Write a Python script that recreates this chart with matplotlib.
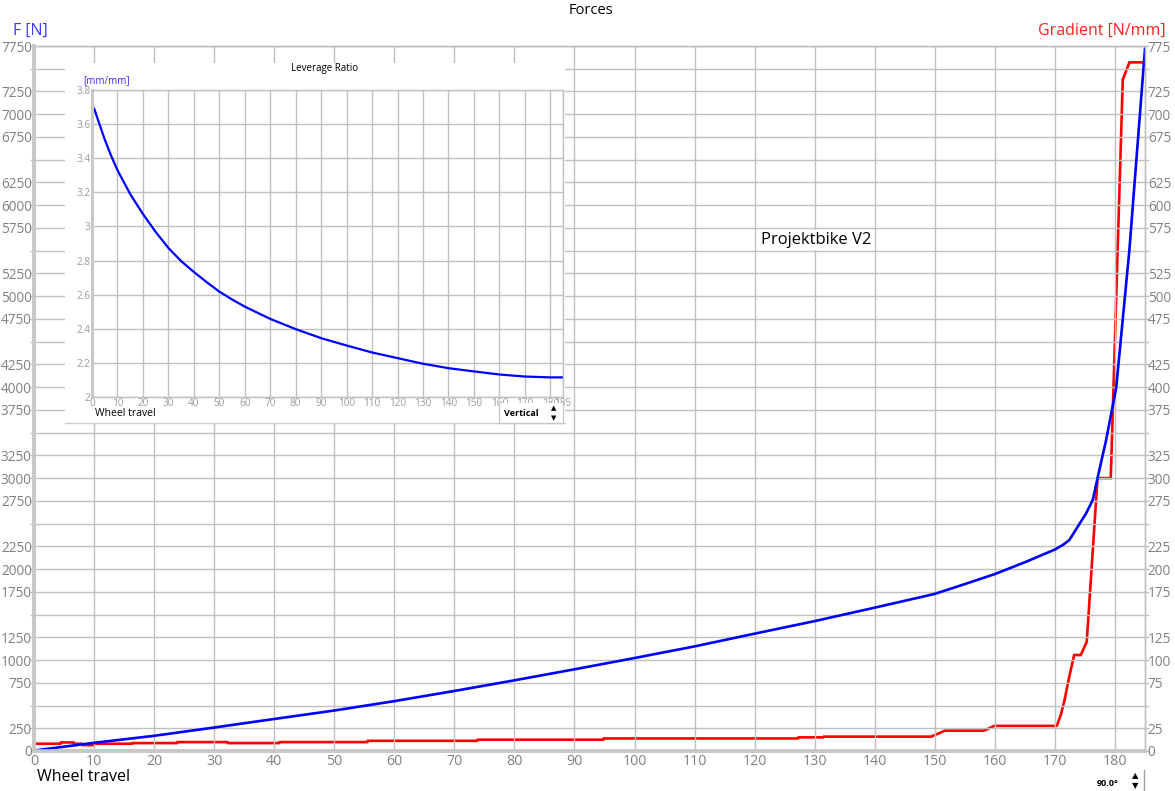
import matplotlib
matplotlib.use("Agg")
import matplotlib.pyplot as plt
from matplotlib.lines import Line2D

plt.rcParams['font.family'] = ['Open Sans', 'DejaVu Sans']

# ---------------- data ----------------
# Force curve (N) vs wheel travel (mm)
force_x = [0, 10, 20, 30, 40, 50, 60, 70, 80, 90, 100, 110, 120, 130, 140, 150,
           155, 160, 165, 170, 171.3, 172.4, 175.2, 176.3, 177.4, 178.5, 180.2, 182.4, 185]
force_y = [5, 90, 167, 258, 352, 445, 548, 660, 777, 898, 1022, 1150, 1290, 1428, 1576, 1727,
           1835, 1945, 2075, 2215, 2264, 2319, 2613, 2759, 3089, 3410, 3990, 5507, 7720]

# Gradient curve (N/mm) vs wheel travel (mm)
grad_x = [0, 4.4, 4.5, 6.6, 6.7, 8.0, 8.1, 9.9, 10.0, 16.3, 16.4, 23.8, 23.9, 32.2, 32.3,
          40.8, 40.9, 55.5, 55.6, 73.8, 73.9, 94.8, 94.9, 127.2, 127.3, 131.4, 131.5,
          149.4, 151.7, 158.2, 159.9, 170.3, 171.0, 171.6, 172.4, 173.2, 174.3, 175.3,
          177.1, 179.3, 181.3, 182.4, 185]
grad_y = [8.0, 8.0, 9.4, 9.4, 8.0, 8.0, 6.5, 6.5, 8.0, 8.0, 8.7, 8.7, 9.8, 9.8, 8.7,
          8.7, 9.8, 9.8, 11.2, 11.2, 12.4, 12.4, 13.8, 13.8, 15.0, 15.0, 15.8,
          15.8, 22.4, 22.4, 27.6, 27.6, 40, 56, 82, 105.5, 105.5, 120,
          300, 300, 738, 757, 757]

# Leverage ratio (mm/mm) vs wheel travel (mm)
lev_x = [0, 1, 2.5, 5, 7.5, 10, 15, 20, 25, 30, 35, 40, 45, 50, 55, 60, 70, 80, 90, 100,
         110, 120, 130, 140, 150, 160, 170, 180, 185]
lev_y = [3.708, 3.685, 3.618, 3.51, 3.415, 3.33, 3.19, 3.073, 2.968, 2.874, 2.797, 2.733,
         2.674, 2.618, 2.572, 2.53, 2.458, 2.398, 2.345, 2.302, 2.261, 2.228, 2.195, 2.169,
         2.15, 2.132, 2.12, 2.115, 2.115]

# tick labels
x_ticks = list(range(0, 181, 10))
x_tick_labels = [str(v) for v in x_ticks]
f_ticks = list(range(0, 7751, 250))
f_tick_labels = ['' if v % 1000 == 500 else str(v) for v in f_ticks]
g_ticks = list(range(0, 776, 25))
g_tick_labels = ['' if v % 100 == 50 else str(v) for v in g_ticks]
lev_yticks = [2.0, 2.2, 2.4, 2.6, 2.8, 3.0, 3.2, 3.4, 3.6, 3.8]
lev_ytick_labels = ['2', '2.2', '2.4', '2.6', '2.8', '3', '3.2', '3.4', '3.6', '3.8']
lev_xticks = list(range(0, 181, 10)) + [185]
lev_xtick_labels = [str(v) for v in lev_xticks]

# ---------------- layout helpers ----------------
W, H = 1175, 791
def rect(x0, y0, x1, y1):
    return [x0 / W, 1 - y1 / H, (x1 - x0) / W, (y1 - y0) / H]
def fx(px):
    return px / W
def fy(py):
    return 1 - py / H

GRID = '#c0c0c0'
TICKC = '#808080'
SPINE = '#c8c8c8'

fig = plt.figure(figsize=(W / 100, H / 100), dpi=100)
fig.patch.set_facecolor('white')

# ---------------- main axes ----------------
ax = fig.add_axes(rect(34, 46, 1145, 751))
ax2 = ax.twinx()
ax.set_zorder(ax2.get_zorder() + 1)
ax.patch.set_visible(False)

ax.set_xlim(0, 185)
ax.set_ylim(0, 7750)
ax2.set_ylim(0, 775)

ax.set_xticks(x_ticks)
ax.set_xticklabels(x_tick_labels)
ax.set_yticks(f_ticks)
ax.set_yticklabels(f_tick_labels)
ax2.set_yticks(g_ticks)
ax2.set_yticklabels(g_tick_labels)

ax.grid(True, color=GRID, lw=1.0)
ax.set_axisbelow(True)
ax.tick_params(axis='x', length=0, pad=2, labelsize=10.3, labelcolor=TICKC)
ax.tick_params(axis='y', length=3, width=1, color=GRID, pad=-1.5, labelsize=9.8, labelcolor=TICKC)
ax2.tick_params(axis='y', length=3, width=1, color=GRID, pad=-1.0, labelsize=9.8, labelcolor=TICKC)

for a in (ax, ax2):
    a.spines['left'].set_color(SPINE)
    a.spines['left'].set_linewidth(2.6)
    a.spines['bottom'].set_color(SPINE)
    a.spines['bottom'].set_linewidth(2.6)
    a.spines['right'].set_color(GRID)
    a.spines['right'].set_linewidth(1.0)
    a.spines['top'].set_color(GRID)
    a.spines['top'].set_linewidth(1.0)

ax2.plot(grad_x, grad_y, color='#ff0000', lw=1.9, solid_joinstyle='miter')
ax.plot(force_x, force_y, color='#0000ff', lw=1.9)

# ---------------- texts of main chart ----------------
fig.text(fx(591), fy(10), 'Forces', ha='center', va='center', fontsize=10.5, color='black')
fig.text(fx(13), fy(31), 'F [N]', ha='left', va='center', fontsize=11.5, color='#3a3aff')
fig.text(fx(1166), fy(31), 'Gradient [N/mm]', ha='right', va='center', fontsize=11.5, color='#ff2020')
fig.text(fx(37), fy(777), 'Wheel travel', ha='left', va='center', fontsize=11.5, color='black')
fig.text(fx(816), fy(240), 'Projektbike V2', ha='center', va='center', fontsize=12, color='black',
         bbox=dict(facecolor='white', edgecolor='none', pad=1.5), zorder=5)
fig.text(fx(1108), fy(783), '90.0°', ha='center', va='center', fontsize=6.5, color='black',
         fontweight='bold')
fig.text(fx(1135), fy(776), '▲', ha='center', va='center', fontsize=6, color='black',
         family='DejaVu Sans')
fig.text(fx(1135), fy(786), '▼', ha='center', va='center', fontsize=6, color='black',
         family='DejaVu Sans')
fig.add_artist(Line2D([fx(1144), fx(1144)], [fy(770), fy(791)], color='#a0a0a0', lw=1))

# ---------------- inset (leverage ratio) ----------------
box = fig.add_axes(rect(65, 63, 565, 423))
box.set_facecolor('white')
box.set_xticks([])
box.set_yticks([])
for s in ('left', 'right', 'top'):
    box.spines[s].set_visible(False)
box.spines['bottom'].set_color('#d0d0d0')
box.spines['bottom'].set_linewidth(1.0)
box.set_zorder(ax.get_zorder() + 1)

ins = fig.add_axes(rect(92, 90, 563, 397))
ins.set_zorder(box.get_zorder() + 1)
ins.set_xlim(0, 185)
ins.set_ylim(2.0, 3.8)
ins.set_xticks(lev_xticks)
ins.set_xticklabels(lev_xtick_labels)
ins.set_yticks(lev_yticks)
ins.set_yticklabels(lev_ytick_labels)
ins.grid(True, color=GRID, lw=1.0)
ins.set_axisbelow(True)
ins.tick_params(axis='both', length=0, pad=1.0, labelsize=7.2, labelcolor='#9a9a9a')
ins.spines['left'].set_color(SPINE)
ins.spines['left'].set_linewidth(2.2)
for s in ('right', 'top', 'bottom'):
    ins.spines[s].set_color(GRID)
    ins.spines[s].set_linewidth(1.0)
ins.plot(lev_x, lev_y, color='#0000ff', lw=1.6)

fig.text(fx(325), fy(68), 'Leverage Ratio', ha='center', va='center', fontsize=7, color='black',
         zorder=10)
fig.text(fx(83), fy(81), '[mm/mm]', ha='left', va='center', fontsize=7, color='#3a2aff', zorder=10)
fig.text(fx(95), fy(413), 'Wheel travel', ha='left', va='center', fontsize=7.5, color='black',
         zorder=10)

# "Vertical" dropdown widget
vbox = fig.add_axes(rect(499, 403, 563, 423))
vbox.set_zorder(ins.get_zorder() + 1)
vbox.set_facecolor('white')
vbox.set_xticks([])
vbox.set_yticks([])
vbox.spines['top'].set_visible(False)
for s in ('left', 'right', 'bottom'):
    vbox.spines[s].set_color('#c8c8c8')
    vbox.spines[s].set_linewidth(1.0)
vbox.text(0.08, 0.45, 'Vertical', transform=vbox.transAxes, ha='left', va='center',
          fontsize=6.5, fontweight='bold', color='black')
vbox.text(0.86, 0.72, '▲', transform=vbox.transAxes, ha='center', va='center',
          fontsize=5, color='black', family='DejaVu Sans')
vbox.text(0.86, 0.22, '▼', transform=vbox.transAxes, ha='center', va='center',
          fontsize=5, color='black', family='DejaVu Sans')

fig.savefig('out.png', dpi=100, facecolor='white')
